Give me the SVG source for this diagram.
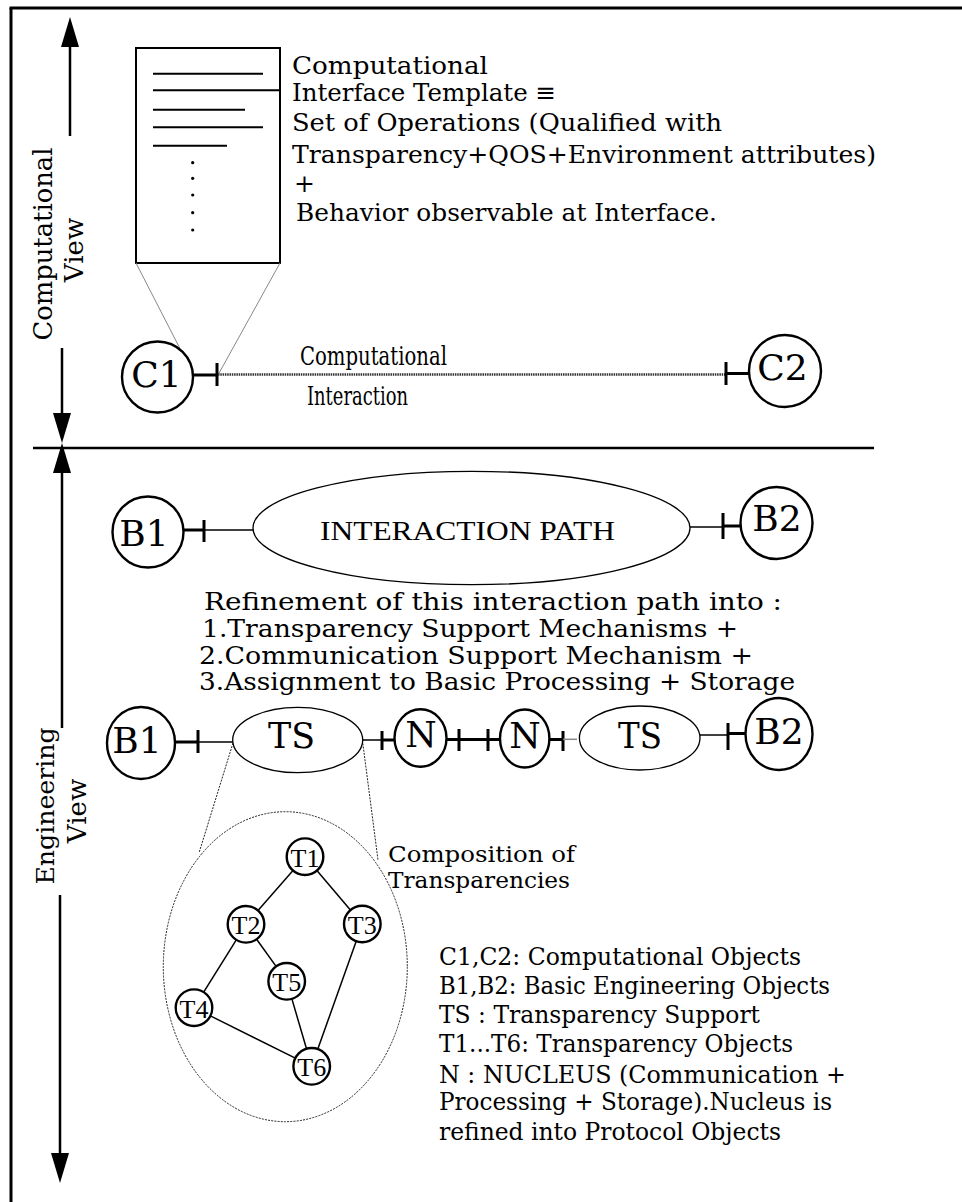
<svg xmlns="http://www.w3.org/2000/svg" width="962" height="1202" viewBox="0 0 962 1202">
<style>
.frame{stroke:#000;stroke-width:3;fill:none}
.ax{stroke:#000;stroke-width:2.5;fill:none}
.node{fill:#fff;stroke:#000;stroke-width:2.4}
.thin{fill:#fff;stroke:#000;stroke-width:1.3}
.stub{stroke:#000;stroke-width:3;fill:none}
.tick{stroke:#000;stroke-width:3;fill:none}
.ln{stroke:#000;stroke-width:1.5;fill:none}
.gray{stroke:#888;stroke-width:1;fill:none}
.dot{stroke:#222;stroke-width:1;stroke-dasharray:2 1.2;fill:none}
.hatch{stroke:#333;stroke-width:2.5;stroke-dasharray:1.5 0.8;fill:none}
.pal{font-family:"DejaVu Serif","Liberation Serif",serif;fill:#000}
.tim{font-family:"Liberation Serif","DejaVu Serif",serif;fill:#000}
.lbl{font-family:"DejaVu Serif","Liberation Serif",serif;font-size:36px;text-anchor:middle;fill:#000}
.tl{font-family:"Liberation Serif","DejaVu Serif",serif;font-size:26px;text-anchor:middle;fill:#000}
</style>
<defs>
<marker id="arrow" markerUnits="userSpaceOnUse" markerWidth="30" markerHeight="18" refX="0" refY="9" orient="auto" viewBox="0 0 30 18">
<path d="M0,0 L30,9 L0,18 Z" fill="#000"/>
</marker>
</defs>

<g id="frame">
<line class="frame" x1="9.5" y1="8" x2="962" y2="8"/>
<line class="frame" x1="11" y1="8" x2="11" y2="1202"/>
<line x1="33" y1="448" x2="874" y2="448" stroke="#000" stroke-width="2.5"/>
</g>

<g id="view-axes">
<line class="ax" x1="70" y1="136" x2="70" y2="47" marker-end="url(#arrow)"/>
<line class="ax" x1="62" y1="348" x2="62" y2="413" marker-end="url(#arrow)"/>
<line class="ax" x1="62" y1="728" x2="62" y2="473" marker-end="url(#arrow)"/>
<line class="ax" x1="60" y1="895" x2="60" y2="1153" marker-end="url(#arrow)"/>
<text class="pal" font-size="26" text-anchor="middle" transform="translate(52,244) rotate(-90)" textLength="193" lengthAdjust="spacingAndGlyphs">Computational</text>
<text class="pal" font-size="26" text-anchor="middle" transform="translate(83,250) rotate(-90)">View</text>
<text class="pal" font-size="25" text-anchor="middle" transform="translate(54,806) rotate(-90)" textLength="157" lengthAdjust="spacingAndGlyphs">Engineering</text>
<text class="pal" font-size="26" text-anchor="middle" transform="translate(86,811) rotate(-90)">View</text>
</g>

<g id="template">
<rect x="136" y="48" width="144" height="215" fill="#fff" stroke="#000" stroke-width="2"/>
<g stroke="#000" stroke-width="2">
<line x1="153" y1="73.7" x2="263" y2="73.7"/>
<line x1="153" y1="90.3" x2="280" y2="90.3"/>
<line x1="153" y1="109.7" x2="245" y2="109.7"/>
<line x1="153" y1="127.3" x2="263" y2="127.3"/>
<line x1="153" y1="145.7" x2="227" y2="145.7"/>
</g>
<g fill="#000">
<circle cx="192.7" cy="162.7" r="1.6"/>
<circle cx="192.7" cy="178.3" r="1.6"/>
<circle cx="192.7" cy="195" r="1.6"/>
<circle cx="192.7" cy="212.7" r="1.6"/>
<circle cx="192.7" cy="230" r="1.6"/>
</g>
</g>

<g id="template-text" class="pal" font-size="25">
<text x="292" y="74" textLength="196" lengthAdjust="spacingAndGlyphs">Computational</text>
<text x="292" y="101" textLength="264" lengthAdjust="spacingAndGlyphs">Interface Template ≡</text>
<text x="292" y="131" textLength="430" lengthAdjust="spacingAndGlyphs">Set of Operations (Qualified with</text>
<text x="292" y="163" textLength="584" lengthAdjust="spacingAndGlyphs">Transparency+QOS+Environment attributes)</text>
<text x="294" y="192">+</text>
<text x="296" y="221" textLength="421" lengthAdjust="spacingAndGlyphs">Behavior observable at Interface.</text>
</g>

<g id="connectors">
<line class="gray" x1="136" y1="263" x2="191" y2="370"/>
<line class="gray" x1="280" y1="263" x2="218" y2="375"/>
<line class="stub" x1="193" y1="375" x2="217" y2="375"/>
<line class="tick" x1="217" y1="363" x2="217" y2="386"/>
<line class="hatch" x1="218" y1="374.5" x2="726" y2="374.5"/>
<line class="tick" x1="726" y1="362" x2="726" y2="385"/>
<line class="stub" x1="726" y1="373.5" x2="749" y2="373.5"/>
<line class="stub" x1="183" y1="530" x2="204" y2="530"/>
<line class="tick" x1="204" y1="520" x2="204" y2="542"/>
<line class="ln" x1="204" y1="530" x2="253" y2="530"/>
<line class="ln" x1="690" y1="527" x2="723" y2="527"/>
<line class="tick" x1="723" y1="513" x2="723" y2="539"/>
<line class="stub" x1="723" y1="526" x2="741" y2="526"/>
<line class="stub" x1="175" y1="742" x2="198" y2="742"/>
<line class="tick" x1="198" y1="730" x2="198" y2="753"/>
<line class="ln" x1="198" y1="742" x2="233" y2="742"/>
<line class="ln" x1="363" y1="740" x2="382" y2="740"/>
<line class="tick" x1="382" y1="731" x2="382" y2="750"/>
<line class="stub" x1="382" y1="740" x2="395" y2="740"/>
<line class="stub" x1="446" y1="739.5" x2="500" y2="739.5"/>
<line class="tick" x1="459" y1="729" x2="459" y2="751"/>
<line class="tick" x1="488" y1="729" x2="488" y2="751"/>
<line class="stub" x1="549" y1="739.5" x2="563" y2="739.5"/>
<line class="tick" x1="563" y1="731" x2="563" y2="751"/>
<line x1="563" y1="739.3" x2="577" y2="739.3" stroke="#888" stroke-width="1.5"/>
<line class="ln" x1="700" y1="735" x2="728" y2="735"/>
<line class="tick" x1="728" y1="723" x2="728" y2="750"/>
<line class="stub" x1="728" y1="733.5" x2="746" y2="733.5"/>
<line class="dot" x1="233" y1="743" x2="199" y2="853"/>
<line class="dot" x1="362" y1="737" x2="378" y2="860"/>
<line class="ln" x1="293" y1="870.5" x2="258" y2="910.5"/>
<line class="ln" x1="316.9" y1="870.6" x2="350.4" y2="910.1"/>
<line class="ln" x1="256.6" y1="939.2" x2="276.1" y2="966.4"/>
<line class="ln" x1="236.3" y1="939.8" x2="203.7" y2="992.2"/>
<line class="ln" x1="291.9" y1="998.9" x2="306.5" y2="1048.8"/>
<line class="ln" x1="356.2" y1="941.2" x2="317.8" y2="1049.1"/>
<line class="ln" x1="210.4" y1="1015.9" x2="295.3" y2="1058.1"/>
</g>

<g id="C1"><circle class="node" cx="157.5" cy="377" r="35.5"/><text class="lbl" x="156.5" y="387">C1</text></g>
<g id="C2"><circle class="node" cx="785" cy="371" r="36"/><text class="lbl" x="782.5" y="380">C2</text></g>
<g id="comp-label" class="pal" font-size="26">
<text x="300" y="365" textLength="147" lengthAdjust="spacingAndGlyphs">Computational</text>
<text x="307" y="405" textLength="101" lengthAdjust="spacingAndGlyphs">Interaction</text>
</g>

<g id="B1-top"><circle class="node" cx="148" cy="532" r="35.5"/><text class="lbl" x="144" y="546">B1</text></g>
<g id="interaction-path"><ellipse class="thin" cx="471.5" cy="528" rx="218.5" ry="56.7"/><text class="tim" font-size="27" x="320" y="540" textLength="295" lengthAdjust="spacingAndGlyphs">INTERACTION PATH</text></g>
<g id="B2-top"><circle class="node" cx="776.5" cy="523" r="36"/><text class="lbl" x="777" y="531">B2</text></g>

<g id="refinement-text" class="pal" font-size="24">
<text x="204" y="610" textLength="578" lengthAdjust="spacingAndGlyphs">Refinement of this interaction path into :</text>
<text x="202" y="637" textLength="536" lengthAdjust="spacingAndGlyphs">1.Transparency Support Mechanisms +</text>
<text x="199" y="664" textLength="554" lengthAdjust="spacingAndGlyphs">2.Communication Support Mechanism +</text>
<text x="199" y="690" textLength="596" lengthAdjust="spacingAndGlyphs">3.Assignment to Basic Processing + Storage</text>
</g>

<g id="B1-bottom"><ellipse class="node" cx="141" cy="743" rx="34" ry="36"/><text class="lbl" x="137" y="753">B1</text></g>
<g id="TS1"><ellipse class="thin" cx="297.7" cy="740" rx="65" ry="32.7"/><text class="lbl" font-size="34" x="291.5" y="748" textLength="47" lengthAdjust="spacingAndGlyphs">TS</text></g>
<g id="N1"><ellipse class="node" cx="420.5" cy="738" rx="26" ry="28.7"/><text class="lbl" font-size="33" x="421" y="747">N</text></g>
<g id="N2"><ellipse class="node" cx="524.7" cy="738.5" rx="24.7" ry="29"/><text class="lbl" font-size="33" x="525" y="748">N</text></g>
<g id="TS2"><ellipse class="thin" cx="639.7" cy="738" rx="60.3" ry="32"/><text class="lbl" font-size="34" x="640" y="748" textLength="44" lengthAdjust="spacingAndGlyphs">TS</text></g>
<g id="B2-bottom"><ellipse class="node" cx="779" cy="734" rx="33.5" ry="36"/><text class="lbl" x="779" y="744">B2</text></g>

<g id="composition"><ellipse class="dot" cx="285.3" cy="966.7" rx="122" ry="155"/></g>
<g id="composition-label" class="pal" font-size="23">
<text x="388" y="862" textLength="187" lengthAdjust="spacingAndGlyphs">Composition of</text>
<text x="388" y="888" textLength="182" lengthAdjust="spacingAndGlyphs">Transparencies</text>
</g>

<g id="T1"><circle class="node" cx="305" cy="856.7" r="18.3"/><text class="tl" x="305" y="866.5">T1</text></g>
<g id="T2"><circle class="node" cx="246" cy="924.3" r="18.3"/><text class="tl" x="246" y="934">T2</text></g>
<g id="T3"><circle class="node" cx="362.3" cy="924" r="18.3"/><text class="tl" x="362.3" y="934">T3</text></g>
<g id="T4"><circle class="node" cx="194" cy="1007.7" r="18.3"/><text class="tl" x="194" y="1017.5">T4</text></g>
<g id="T5"><circle class="node" cx="286.7" cy="981.3" r="18.3"/><text class="tl" x="286.7" y="991">T5</text></g>
<g id="T6"><circle class="node" cx="311.7" cy="1066.3" r="18.3"/><text class="tl" x="311.7" y="1076">T6</text></g>

<g id="legend" class="pal" font-size="24">
<text x="439" y="965" textLength="362" lengthAdjust="spacingAndGlyphs">C1,C2: Computational Objects</text>
<text x="439" y="994" textLength="391" lengthAdjust="spacingAndGlyphs">B1,B2: Basic Engineering Objects</text>
<text x="439" y="1023" textLength="321" lengthAdjust="spacingAndGlyphs">TS : Transparency Support</text>
<text x="439" y="1052" textLength="354" lengthAdjust="spacingAndGlyphs">T1...T6: Transparency Objects</text>
<text x="439" y="1083" textLength="407" lengthAdjust="spacingAndGlyphs">N : NUCLEUS (Communication +</text>
<text x="439" y="1110" textLength="393" lengthAdjust="spacingAndGlyphs">Processing + Storage).Nucleus is</text>
<text x="439" y="1140" textLength="342" lengthAdjust="spacingAndGlyphs">refined into Protocol Objects</text>
</g>
</svg>
